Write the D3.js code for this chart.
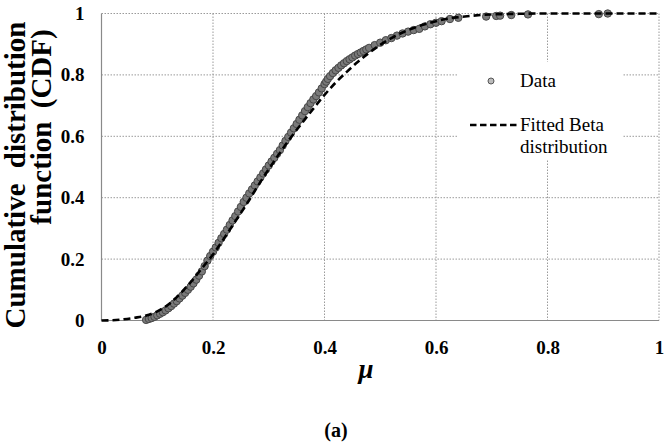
<!DOCTYPE html>
<html>
<head>
<meta charset="utf-8">
<script src="https://cdn.jsdelivr.net/npm/d3@7"></script>
<style>
  html, body { margin: 0; padding: 0; background: #fff; }
  svg { display: block; }
</style>
</head>
<body>
<svg id="chart" width="668" height="448"></svg>
<script>
// ---- Data ----
const xTicks = [0, 0.2, 0.4, 0.6, 0.8, 1];
const yTicks = [0, 0.2, 0.4, 0.6, 0.8, 1];
const xTickLabels = ["0", "0.2", "0.4", "0.6", "0.8", "1"];
const yTickLabels = ["0", "0.2", "0.4", "0.6", "0.8", "1"];

// Empirical CDF points ("Data")
const dataMu = [
  0.080,0.085,0.090,0.095,0.100,0.105,0.110,0.115,0.120,0.125,
  0.130,0.135,0.140,0.145,0.150,0.155,0.160,0.165,0.170,0.175,
  0.180,0.185,0.190,0.195,0.200,0.205,0.210,0.215,0.220,0.225,
  0.230,0.235,0.240,0.245,0.250,0.255,0.260,0.265,0.270,0.275,
  0.280,0.285,0.290,0.295,0.300,0.305,0.310,0.315,0.320,0.325,
  0.330,0.335,0.340,0.345,0.350,0.355,0.360,0.365,0.370,0.375,
  0.380,0.385,0.390,0.395,0.400,0.403,0.406,0.410,0.415,0.420,
  0.425,0.430,0.435,0.440,0.445,0.450,0.455,0.460,0.465,0.470,
  0.475,0.480,0.490,0.500,0.510,0.520,0.530,0.540,0.550,0.560,
  0.570,0.580,0.590,0.600,0.610,0.625,0.640,0.690,0.708,0.715,
  0.735,0.765,0.892,0.908
];
const dataCdf = [
  0.002,0.005,0.008,0.012,0.017,0.022,0.027,0.033,0.040,0.047,
  0.055,0.063,0.072,0.081,0.090,0.100,0.110,0.121,0.133,0.146,
  0.160,0.177,0.195,0.210,0.224,0.238,0.253,0.268,0.282,0.296,
  0.311,0.326,0.340,0.355,0.370,0.386,0.400,0.414,0.427,0.440,
  0.453,0.466,0.479,0.492,0.505,0.518,0.530,0.543,0.555,0.570,
  0.585,0.598,0.612,0.626,0.640,0.654,0.668,0.682,0.695,0.708,
  0.720,0.731,0.743,0.756,0.770,0.778,0.787,0.796,0.806,0.815,
  0.823,0.831,0.838,0.845,0.851,0.857,0.863,0.868,0.873,0.878,
  0.883,0.888,0.897,0.905,0.913,0.920,0.928,0.935,0.941,0.946,
  0.950,0.958,0.965,0.970,0.975,0.982,0.986,0.990,0.992,0.993,
  0.995,0.997,0.998,1.000
];

// Fitted Beta distribution curve
const betaMu  = [0,0.02,0.04,0.06,0.08,0.10,0.12,0.14,0.16,0.18,0.20,0.22,0.24,0.26,0.28,0.30,0.32,0.34,0.36,0.38,0.40,0.42,0.44,0.46,0.48,0.50,0.52,0.54,0.56,0.58,0.60,0.62,0.64,0.66,0.68,0.70,0.75,0.80,0.85,0.90,0.95,1.00];
const betaCdf = [0,0.001,0.004,0.009,0.016,0.030,0.052,0.085,0.125,0.170,0.215,0.268,0.323,0.378,0.437,0.493,0.546,0.597,0.644,0.690,0.735,0.775,0.810,0.843,0.872,0.898,0.920,0.938,0.953,0.965,0.975,0.983,0.988,0.992,0.995,0.997,0.999,1,1,1,1,1];

const xTitle = "\u03bc";
const yTitleLines = ["Cumulative distribution", "function (CDF)"];
const caption = "(a)";
const legendLabels = ["Data", "Fitted Beta", "distribution"];

// ---- Drawing ----
const svg = d3.select("#chart");
const FONT = "Liberation Serif";

const pLeft = 101.5, pRight = 659, pTop = 13.5, pBottom = 320.5;
const x = d3.scaleLinear().domain([0, 1]).range([pLeft, pRight]);
const y = d3.scaleLinear().domain([0, 1]).range([pBottom, pTop]);

// gridlines (dotted)
const grid = svg.append("g");
grid.selectAll("line.v").data(xTicks.filter(d => d > 0)).join("line")
  .attr("x1", d => x(d)).attr("x2", d => x(d))
  .attr("y1", pTop).attr("y2", pBottom)
  .attr("stroke", "#9a9a9a").attr("stroke-width", 1).attr("stroke-dasharray", "1.5,1.5");
grid.selectAll("line.h").data(yTicks.filter(d => d > 0)).join("line")
  .attr("x1", pLeft).attr("x2", pRight)
  .attr("y1", d => y(d)).attr("y2", d => y(d))
  .attr("stroke", "#9a9a9a").attr("stroke-width", 1).attr("stroke-dasharray", "1.5,1.5");

// solid left / bottom axis lines
svg.append("line").attr("x1", pLeft).attr("x2", pLeft).attr("y1", pTop).attr("y2", pBottom)
  .attr("stroke", "#8a8a8a").attr("stroke-width", 1.2);
svg.append("line").attr("x1", pLeft).attr("x2", pRight).attr("y1", pBottom).attr("y2", pBottom)
  .attr("stroke", "#8a8a8a").attr("stroke-width", 1.2);

// legend background
svg.append("rect").attr("x", 458).attr("y", 62).attr("width", 164).attr("height", 98)
  .attr("fill", "#fff");

// axes tick labels
const xAxis = d3.axisBottom(x).tickValues(xTicks).tickSize(0).tickPadding(20)
  .tickFormat((d, i) => xTickLabels[i]);
const yAxis = d3.axisLeft(y).tickValues(yTicks).tickSize(0).tickPadding(17)
  .tickFormat((d, i) => yTickLabels[i]);

const gx = svg.append("g").attr("transform", `translate(0,${pBottom})`).call(xAxis);
const gy = svg.append("g").attr("transform", `translate(${pLeft},0)`).call(yAxis);
[gx, gy].forEach(g => {
  g.attr("font-family", FONT).attr("font-size", 19);
  g.select(".domain").remove();
  g.selectAll("text").attr("font-family", FONT).attr("font-weight", "bold")
    .attr("font-size", 19).attr("fill", "#000");
});

// data points
const pts = dataMu.map((m, i) => ({ m, c: dataCdf[i] }));
svg.append("g").selectAll("circle").data(pts).join("circle")
  .attr("cx", d => x(d.m)).attr("cy", d => y(d.c)).attr("r", 3.7)
  .attr("fill", "#7a7a7a").attr("stroke", "#474747").attr("stroke-width", 1);

// fitted beta curve
const curve = betaMu.map((m, i) => [m, betaCdf[i]]);
const line = d3.line().x(d => x(d[0])).y(d => y(d[1])).curve(d3.curveMonotoneX);
svg.append("path").datum(curve).attr("d", line)
  .attr("fill", "none").attr("stroke", "#000").attr("stroke-width", 2.6)
  .attr("stroke-dasharray", "7,4");

// legend
svg.append("circle").attr("cx", 491).attr("cy", 81).attr("r", 3)
  .attr("fill", "#bbb").attr("stroke", "#555").attr("stroke-width", 1);
svg.append("text").attr("x", 520).attr("y", 87).text(legendLabels[0])
  .attr("font-family", FONT).attr("font-size", 19).attr("fill", "#000");
svg.append("line").attr("x1", 470).attr("x2", 518).attr("y1", 125).attr("y2", 125)
  .attr("stroke", "#000").attr("stroke-width", 2.6).attr("stroke-dasharray", "6.5,3.5");
svg.append("text").attr("x", 520).attr("y", 131).text(legendLabels[1])
  .attr("font-family", FONT).attr("font-size", 19).attr("fill", "#000");
svg.append("text").attr("x", 520).attr("y", 153).text(legendLabels[2])
  .attr("font-family", FONT).attr("font-size", 19).attr("fill", "#000");

// x title
svg.append("text").attr("x", 366).attr("y", 378).attr("text-anchor", "middle")
  .text(xTitle).attr("font-family", FONT).attr("font-weight", "bold")
  .attr("font-style", "italic").attr("font-size", 27).attr("fill", "#000");

// y title (rotated, two lines)
svg.append("text").attr("transform", "translate(25,175) rotate(-90)")
  .attr("text-anchor", "middle").text(yTitleLines[0])
  .attr("font-family", FONT).attr("font-weight", "bold").attr("font-size", 29)
  .attr("word-spacing", 8).attr("fill", "#000");
svg.append("text").attr("transform", "translate(51,127) rotate(-90)")
  .attr("text-anchor", "middle").text(yTitleLines[1])
  .attr("font-family", FONT).attr("font-weight", "bold").attr("font-size", 29)
  .attr("word-spacing", 6).attr("fill", "#000");

// caption
svg.append("text").attr("x", 336).attr("y", 437).attr("text-anchor", "middle")
  .text(caption).attr("font-family", FONT).attr("font-weight", "bold")
  .attr("font-size", 20).attr("fill", "#000");
</script>
</body>
</html>
